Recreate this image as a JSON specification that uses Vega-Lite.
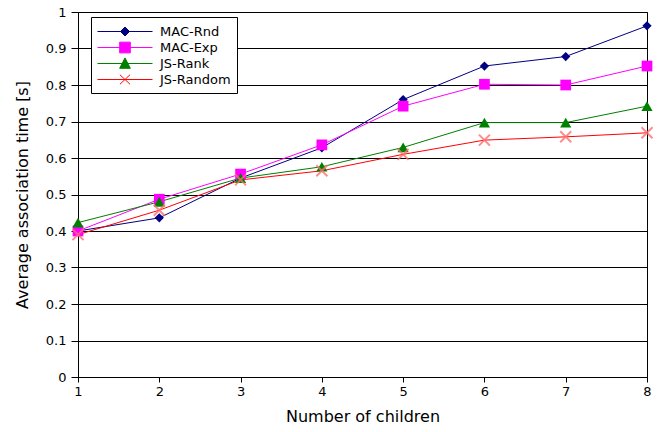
{
  "$schema": "https://vega.github.io/schema/vega-lite/v6.json",
  "width": 569,
  "height": 365,
  "autosize": {"type": "none"},
  "padding": {"left": 78, "top": 12, "right": 16, "bottom": 55},
  "background": "white",
  "config": {
    "font": "DejaVu Sans",
    "view": {"stroke": "black", "strokeWidth": 1},
    "axis": {
      "domainColor": "black",
      "tickColor": "black",
      "labelColor": "black",
      "titleColor": "black",
      "labelFontSize": 13,
      "titleFontSize": 16,
      "titleFontWeight": "normal",
      "labelFont": "DejaVu Sans",
      "titleFont": "DejaVu Sans",
      "labelFlush": false
    }
  },
  "data": {
    "values": [
      {"x": 1, "series": "MAC-Rnd", "y": 0.400},
      {"x": 2, "series": "MAC-Rnd", "y": 0.436},
      {"x": 3, "series": "MAC-Rnd", "y": 0.545},
      {"x": 4, "series": "MAC-Rnd", "y": 0.628},
      {"x": 5, "series": "MAC-Rnd", "y": 0.760},
      {"x": 6, "series": "MAC-Rnd", "y": 0.852},
      {"x": 7, "series": "MAC-Rnd", "y": 0.878},
      {"x": 8, "series": "MAC-Rnd", "y": 0.962},
      {"x": 1, "series": "MAC-Exp", "y": 0.400},
      {"x": 2, "series": "MAC-Exp", "y": 0.487},
      {"x": 3, "series": "MAC-Exp", "y": 0.556},
      {"x": 4, "series": "MAC-Exp", "y": 0.636},
      {"x": 5, "series": "MAC-Exp", "y": 0.742},
      {"x": 6, "series": "MAC-Exp", "y": 0.802},
      {"x": 7, "series": "MAC-Exp", "y": 0.800},
      {"x": 8, "series": "MAC-Exp", "y": 0.852},
      {"x": 1, "series": "JS-Rank", "y": 0.423},
      {"x": 2, "series": "JS-Rank", "y": 0.480},
      {"x": 3, "series": "JS-Rank", "y": 0.545},
      {"x": 4, "series": "JS-Rank", "y": 0.576},
      {"x": 5, "series": "JS-Rank", "y": 0.629},
      {"x": 6, "series": "JS-Rank", "y": 0.697},
      {"x": 7, "series": "JS-Rank", "y": 0.697},
      {"x": 8, "series": "JS-Rank", "y": 0.742},
      {"x": 1, "series": "JS-Random", "y": 0.390},
      {"x": 2, "series": "JS-Random", "y": 0.457},
      {"x": 3, "series": "JS-Random", "y": 0.540},
      {"x": 4, "series": "JS-Random", "y": 0.565},
      {"x": 5, "series": "JS-Random", "y": 0.610},
      {"x": 6, "series": "JS-Random", "y": 0.649},
      {"x": 7, "series": "JS-Random", "y": 0.658},
      {"x": 8, "series": "JS-Random", "y": 0.669}
    ]
  },
  "encoding": {
    "x": {
      "field": "x",
      "type": "quantitative",
      "scale": {"domain": [1, 8], "nice": false, "zero": false},
      "axis": {
        "values": [1, 2, 3, 4, 5, 6, 7, 8],
        "title": "Number of children",
        "grid": false,
        "tickSize": 5,
        "labelPadding": 3,
        "titlePadding": 10
      }
    },
    "y": {
      "field": "y",
      "type": "quantitative",
      "scale": {"domain": [0, 1], "nice": false},
      "axis": {
        "values": [0, 0.1, 0.2, 0.3, 0.4, 0.5, 0.6, 0.7, 0.8, 0.9, 1],
        "format": "~g",
        "title": "Average association time [s]",
        "grid": true,
        "gridColor": "black",
        "gridOpacity": 1,
        "gridWidth": 1,
        "tickSize": 7,
        "labelPadding": 5,
        "titlePadding": 15
      }
    }
  },
  "layer": [
    {
      "mark": {"type": "line", "strokeWidth": 1},
      "encoding": {
        "stroke": {
          "field": "series",
          "type": "nominal",
          "scale": {
            "domain": ["JS-Random", "JS-Rank", "MAC-Exp", "MAC-Rnd"],
            "range": ["#ff0000", "#008000", "#ff00ff", "#000080"]
          },
          "legend": null
        }
      }
    },
    {
      "transform": [{"filter": "datum.series === 'MAC-Rnd'"}],
      "mark": {"type": "point", "shape": "diamond", "filled": true, "color": "#000080", "size": 85, "opacity": 1}
    },
    {
      "transform": [{"filter": "datum.series === 'MAC-Exp'"}],
      "mark": {"type": "point", "shape": "square", "filled": true, "color": "#ff00ff", "size": 115, "opacity": 1}
    },
    {
      "transform": [{"filter": "datum.series === 'JS-Rank'"}],
      "mark": {"type": "point", "shape": "triangle-up", "filled": true, "color": "#008000", "size": 125, "opacity": 1}
    },
    {
      "transform": [{"filter": "datum.series === 'JS-Random'"}],
      "mark": {"type": "point", "shape": "M-1,-1L1,1M-1,1L1,-1", "filled": false, "color": "#ff7070", "size": 121, "strokeWidth": 2, "opacity": 0.8}
    },
    {
      "mark": {"type": "point", "filled": true, "opacity": 0},
      "encoding": {
        "color": {
          "field": "series",
          "type": "nominal",
          "scale": {
            "domain": ["MAC-Rnd", "MAC-Exp", "JS-Rank", "JS-Random"],
            "range": ["#000080", "#ff00ff", "#008000", "#ff0000"]
          },
          "legend": {
            "orient": "none", "legendX": 13, "legendY": 5, "title": null,
            "padding": 6, "rowPadding": 0, "symbolSize": 256, "labelOffset": 46,
            "labelFontSize": 13, "labelFont": "DejaVu Sans", "labelColor": "black",
            "strokeColor": "black", "fillColor": "white", "symbolOpacity": 1,
            "encode": {"symbols": {"update": {"stroke": {"scale": "color", "field": "value"}, "strokeWidth": {"value": 1}, "opacity": {"value": 1}}}}
          }
        },
        "shape": {
          "field": "series",
          "type": "nominal",
          "scale": {
            "domain": ["MAC-Rnd", "MAC-Exp", "JS-Rank", "JS-Random"],
            "range": [
              "M-1,0H5.875M2.4375,-0.5625L3,0L2.4375,0.5625L1.875,0Z",
              "M-1,0H5.875M1.77,-0.67H3.1V0.67H1.77Z",
              "M-1,0H5.875M2.4375,-0.7L3.1,0.6L1.77,0.6Z",
              "M-1,0H5.875M1.8,-0.6L3.07,0.6M1.8,0.6L3.07,-0.6"
            ]
          },
          "legend": {
            "orient": "none", "legendX": 13, "legendY": 5, "title": null,
            "padding": 6, "rowPadding": 0, "symbolSize": 256, "labelOffset": 46,
            "labelFontSize": 13, "labelFont": "DejaVu Sans", "labelColor": "black",
            "strokeColor": "black", "fillColor": "white", "symbolOpacity": 1,
            "encode": {"symbols": {"update": {"stroke": {"scale": "color", "field": "value"}, "strokeWidth": {"value": 1}, "opacity": {"value": 1}}}}
          }
        }
      }
    }
  ]
}
